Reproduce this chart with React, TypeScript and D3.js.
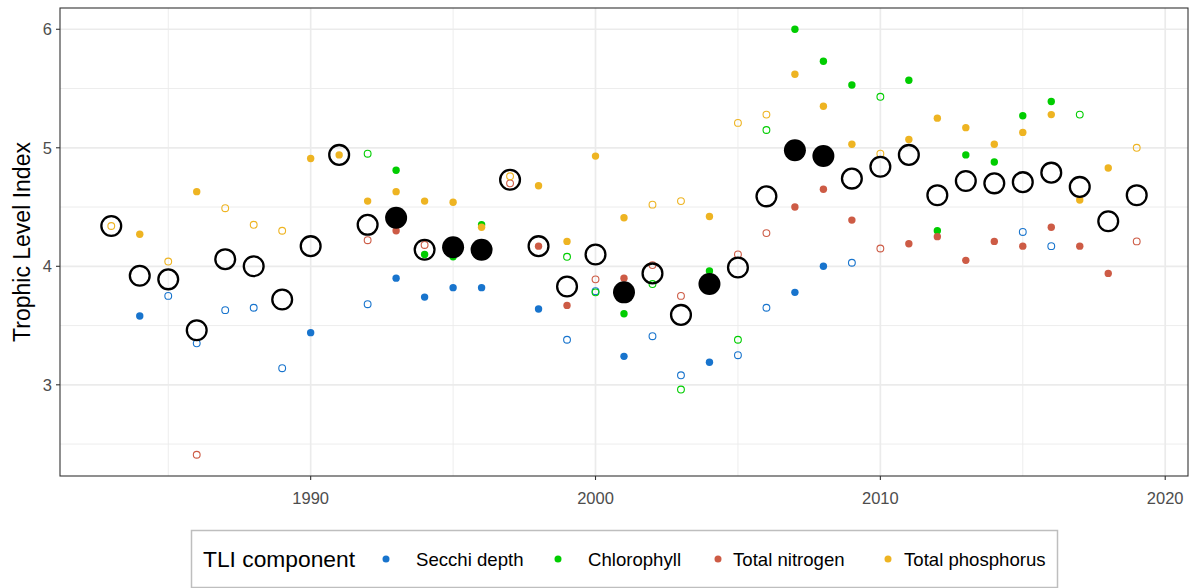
import React from "react";
import * as d3 from "d3";

// Annual Trophic Level Index and its four components, 1983–2019.
// Flags: 1 = measured (filled marker), 0 = estimated (open marker).
const years = d3.range(1983, 2020);

const tli = [4.34, 3.92, 3.89, 3.46, 4.06, 4.0, 3.72, 4.17, 4.94, 4.35, 4.41, 4.14, 4.16, 4.14, 4.73, 4.17, 3.83, 4.1, 3.78, 3.94, 3.59, 3.85, 3.99, 4.59, 4.98, 4.93, 4.74, 4.84, 4.94, 4.6, 4.72, 4.7, 4.71, 4.79, 4.67, 4.38, 4.6];
const tliFlag = [0, 0, 0, 0, 0, 0, 0, 0, 0, 0, 1, 0, 1, 1, 0, 0, 0, 0, 1, 0, 0, 1, 0, 0, 1, 1, 0, 0, 0, 0, 0, 0, 0, 0, 0, 0, 0];

const secchi = [null, 3.58, 3.75, 3.35, 3.63, 3.65, 3.14, 3.44, null, 3.68, 3.9, 3.74, 3.82, 3.82, null, 3.64, 3.38, 3.79, 3.24, 3.41, 3.08, 3.19, 3.25, 3.65, 3.78, 4.0, 4.03, null, null, null, null, null, 4.29, 4.17, null, null, null];
const secchiFlag = [0, 1, 0, 0, 0, 0, 0, 1, 0, 0, 1, 1, 1, 1, 0, 1, 0, 0, 1, 0, 0, 1, 0, 0, 1, 1, 0, 0, 0, 0, 0, 0, 0, 0, 0, 0, 0];

const chlorophyll = [null, null, null, null, null, null, null, null, null, 4.95, 4.81, 4.1, 4.08, 4.35, null, null, 4.08, 3.78, 3.6, 3.85, 2.96, 3.96, 3.38, 5.15, 6.0, 5.73, 5.53, 5.43, 5.57, 4.3, 4.94, 4.88, 5.27, 5.39, 5.28, null, null];
const chlorophyllFlag = [0, 0, 0, 0, 0, 0, 0, 0, 0, 0, 1, 1, 1, 1, 0, 0, 0, 0, 1, 0, 0, 1, 0, 0, 1, 1, 1, 0, 1, 1, 1, 1, 1, 1, 0, 0, 0];

const nitrogen = [null, null, null, 2.41, null, null, null, null, null, 4.22, 4.3, 4.18, null, null, 4.7, 4.17, 3.67, 3.89, 3.9, 4.01, 3.75, null, 4.1, 4.28, 4.5, 4.65, 4.39, 4.15, 4.19, 4.25, 4.05, 4.21, 4.17, 4.33, 4.17, 3.94, 4.21];
const nitrogenFlag = [0, 0, 0, 0, 0, 0, 0, 0, 0, 0, 1, 0, 0, 0, 0, 1, 1, 0, 1, 0, 0, 0, 0, 0, 1, 1, 1, 0, 1, 1, 1, 1, 1, 1, 1, 1, 0];

const phosphorus = [4.34, 4.27, 4.04, 4.63, 4.49, 4.35, 4.3, 4.91, 4.94, 4.55, 4.63, 4.55, 4.54, 4.33, 4.76, 4.68, 4.21, 4.93, 4.41, 4.52, 4.55, 4.42, 5.21, 5.28, 5.62, 5.35, 5.03, 4.95, 5.07, 5.25, 5.17, 5.03, 5.13, 5.28, 4.56, 4.83, 5.0];
const phosphorusFlag = [0, 1, 0, 1, 0, 0, 0, 1, 1, 1, 1, 1, 1, 1, 0, 1, 1, 1, 1, 0, 0, 1, 0, 0, 1, 1, 1, 0, 1, 1, 1, 1, 1, 1, 1, 1, 0];

const componentNames = ["Secchi depth", "Chlorophyll", "Total nitrogen", "Total phosphorus"];
const componentColors = ["#1874CD", "#00CD00", "#CD5B45", "#EEB422"];
const componentValues = [secchi, chlorophyll, nitrogen, phosphorus];
const componentFlags = [secchiFlag, chlorophyllFlag, nitrogenFlag, phosphorusFlag];

const xTicks = [1990, 2000, 2010, 2020];
const xMinor = [1985, 1995, 2005, 2015];
const yTicks = [3, 4, 5, 6];
const yMinor = [2.5, 3.5, 4.5, 5.5];

const W = 1198;
const H = 588;
const panel = { left: 60, right: 1188, top: 8, bottom: 476 };
const FONT = "'Liberation Sans', Arial, Helvetica, sans-serif";

type Pt = { year: number; value: number; measured: boolean; k: number };

export default function App() {
  const allVals: number[] = [];
  componentValues.forEach((arr) => arr.forEach((v) => v != null && allVals.push(v as number)));
  tli.forEach((v) => allVals.push(v));
  const [yLo, yHi] = d3.extent(allVals) as [number, number];
  const yPad = (yHi - yLo) * 0.05;
  const [xLo, xHi] = d3.extent(years) as [number, number];
  const xPad = (xHi - xLo) * 0.05;

  const x = d3.scaleLinear().domain([xLo - xPad, xHi + xPad]).range([panel.left, panel.right]);
  const y = d3.scaleLinear().domain([yLo - yPad, yHi + yPad]).range([panel.bottom, panel.top]);

  const pts: Pt[] = [];
  componentValues.forEach((arr, k) => {
    arr.forEach((v, i) => {
      if (v != null) pts.push({ year: years[i], value: v as number, measured: componentFlags[k][i] === 1, k });
    });
  });

  const gridColor = "#EBEBEB";

  // legend layout
  const legend = { x: 191.5, y: 530.5, w: 866, h: 57 };
  const keyX = [386, 558, 718, 888];
  const labelX = [416, 588, 733, 904];
  const legendMidY = 559;

  return (
    <svg width={W} height={H} style={{ position: "absolute", left: 0, top: 0, background: "#fff" }} fontFamily={FONT}>
      <rect x={0} y={0} width={W} height={H} fill="#fff" />
      {/* grid */}
      <g>
        {yMinor.map((t) => (
          <line key={"ym" + t} x1={panel.left} x2={panel.right} y1={y(t)} y2={y(t)} stroke={gridColor} strokeWidth={0.9} />
        ))}
        {xMinor.map((t) => (
          <line key={"xm" + t} y1={panel.top} y2={panel.bottom} x1={x(t)} x2={x(t)} stroke={gridColor} strokeWidth={0.9} />
        ))}
        {yTicks.map((t) => (
          <line key={"yM" + t} x1={panel.left} x2={panel.right} y1={y(t)} y2={y(t)} stroke={gridColor} strokeWidth={1.7} />
        ))}
        {xTicks.map((t) => (
          <line key={"xM" + t} y1={panel.top} y2={panel.bottom} x1={x(t)} x2={x(t)} stroke={gridColor} strokeWidth={1.7} />
        ))}
      </g>
      {/* component points */}
      <g>
        {pts.map((p, i) =>
          p.measured ? (
            <circle key={i} cx={x(p.year)} cy={y(p.value)} r={3.7} fill={componentColors[p.k]} />
          ) : (
            <circle key={i} cx={x(p.year)} cy={y(p.value)} r={3.4} fill="none" stroke={componentColors[p.k]} strokeWidth={1.1} />
          )
        )}
      </g>
      {/* TLI */}
      <g>
        {tli.map((v, i) =>
          tliFlag[i] === 1 ? (
            <circle key={i} cx={x(years[i])} cy={y(v)} r={11} fill="#000" />
          ) : (
            <circle key={i} cx={x(years[i])} cy={y(v)} r={9.9} fill="none" stroke="#000" strokeWidth={2.3} />
          )
        )}
      </g>
      {/* panel border */}
      <rect
        x={panel.left}
        y={panel.top}
        width={panel.right - panel.left}
        height={panel.bottom - panel.top}
        fill="none"
        stroke="#333333"
        strokeWidth={1.1}
      />
      {/* y axis */}
      <g>
        {yTicks.map((t) => (
          <g key={t}>
            <line x1={panel.left - 4} x2={panel.left} y1={y(t)} y2={y(t)} stroke="#333333" strokeWidth={1.1} />
            <text x={panel.left - 8} y={y(t)} dy="0.36em" textAnchor="end" fontSize={16.5} fill="#4D4D4D">
              {t}
            </text>
          </g>
        ))}
        <text
          transform={`translate(${22},${(panel.top + panel.bottom) / 2}) rotate(-90)`}
          textAnchor="middle"
          dy="0.36em"
          fontSize={23}
          fill="#000"
        >
          Trophic Level Index
        </text>
      </g>
      {/* x axis */}
      <g>
        {xTicks.map((t) => (
          <g key={t}>
            <line y1={panel.bottom} y2={panel.bottom + 4} x1={x(t)} x2={x(t)} stroke="#333333" strokeWidth={1.1} />
            <text x={x(t)} y={panel.bottom + 22} dy="0.36em" textAnchor="middle" fontSize={16.5} fill="#4D4D4D">
              {t}
            </text>
          </g>
        ))}
      </g>
      {/* legend */}
      <g>
        <rect x={legend.x} y={legend.y} width={legend.w} height={legend.h} fill="#fff" stroke="#BEBEBE" strokeWidth={1.5} />
        <text x={203} y={legendMidY} dy="0.36em" fontSize={22.8} fill="#000">
          TLI component
        </text>
        {componentNames.map((name, k) => (
          <g key={name}>
            <circle cx={keyX[k]} cy={legendMidY} r={3.5} fill={componentColors[k]} />
            <text x={labelX[k]} y={legendMidY} dy="0.36em" fontSize={18.6} fill="#000">
              {name}
            </text>
          </g>
        ))}
      </g>
    </svg>
  );
}
